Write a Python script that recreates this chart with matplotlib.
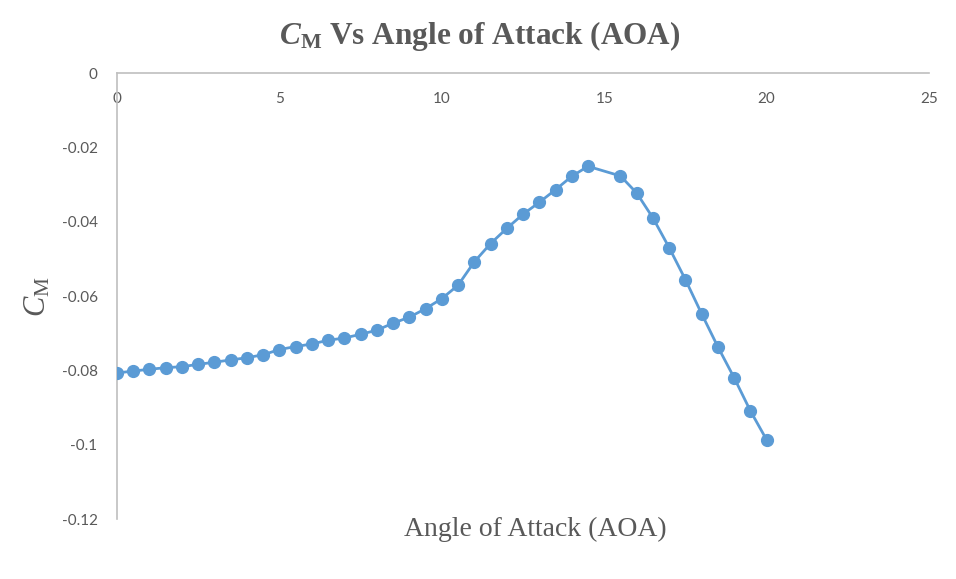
import matplotlib
matplotlib.use("Agg")
import matplotlib.pyplot as plt
from matplotlib.font_manager import FontProperties, findfont

# Angle of attack (deg) and pitching-moment coefficient
aoa = [0, 0.5, 1, 1.5, 2, 2.5, 3, 3.5, 4, 4.5,
       5, 5.5, 6, 6.5, 7, 7.5, 8, 8.5, 9, 9.5,
       10, 10.5, 11, 11.5, 12, 12.5, 13, 13.5, 14, 14.5,
       15.5, 16, 16.5, 17, 17.5, 18, 18.5, 19, 19.5, 20]
cm = [-0.0807, -0.0802, -0.0797, -0.0793, -0.0790, -0.0784, -0.0778, -0.0772, -0.0766, -0.0758,
      -0.0744, -0.0736, -0.0729, -0.0719, -0.0713, -0.0703, -0.0692, -0.0673, -0.0657, -0.0634,
      -0.0607, -0.0571, -0.0508, -0.0459, -0.0418, -0.0380, -0.0348, -0.0314, -0.0278, -0.0251,
      -0.0277, -0.0323, -0.0390, -0.0470, -0.0556, -0.0648, -0.0737, -0.0820, -0.0909, -0.0987]
x_ticks = [0, 5, 10, 15, 20, 25]
y_ticks = [0, -0.02, -0.04, -0.06, -0.08, -0.1, -0.12]
y_tick_labels = ["0", "-0.02", "-0.04", "-0.06", "-0.08", "-0.1", "-0.12"]

TEXT = "#595959"
AXIS = "#bfbfbf"
BLUE = "#5b9bd5"

tick_font = "DejaVu Sans"
for fam in ("Liberation Sans Narrow", "Lato", "Open Sans"):
    try:
        findfont(FontProperties(family=fam), fallback_to_default=False)
        tick_font = fam
        break
    except Exception:
        continue

plt.rcParams["mathtext.fontset"] = "custom"
plt.rcParams["mathtext.rm"] = "Liberation Serif"
plt.rcParams["mathtext.it"] = "Liberation Serif:italic"
plt.rcParams["mathtext.bf"] = "Liberation Serif:bold"
plt.rcParams["mathtext.bfit"] = "Liberation Serif:italic:bold"

fig = plt.figure(figsize=(9.56, 5.79), dpi=100)
fig.patch.set_facecolor("white")
ax = fig.add_axes([0.1224, 0.1036, 0.8494, 0.7703])

ax.plot(aoa, cm, color=BLUE, linewidth=2.0, marker="o", markersize=8.5,
        markerfacecolor=BLUE, markeredgecolor=BLUE, zorder=3)

ax.set_xlim(0, 25)
ax.set_ylim(-0.12, 0)

# Excel-style: category axis crosses at y = 0, i.e. along the top
for s in ("top", "right"):
    ax.spines[s].set_visible(False)
ax.spines["bottom"].set_position(("data", 0))
ax.spines["bottom"].set_color(AXIS)
ax.spines["left"].set_color(AXIS)
ax.spines["bottom"].set_linewidth(1.2)
ax.spines["left"].set_linewidth(1.2)

ax.set_xticks(x_ticks)
ax.set_xticklabels([str(v) for v in x_ticks])
ax.set_yticks(y_ticks)
ax.set_yticklabels(y_tick_labels)
ax.tick_params(axis="both", length=0, colors=TEXT, labelsize=11)
ax.tick_params(axis="x", pad=14)
ax.tick_params(axis="y", pad=14)
for lab in ax.get_xticklabels() + ax.get_yticklabels():
    lab.set_fontfamily(tick_font)

fig.text(0.502, 0.938, r"$\mathbfit{C}_{\mathbf{M}}$ Vs Angle of Attack (AOA)",
         ha="center", va="center", fontsize=22.5, fontweight="bold",
         family="Liberation Serif", color=TEXT)
fig.text(0.56, 0.085, "Angle of Attack (AOA)", ha="center", va="center",
         fontsize=20, family="Liberation Serif", color=TEXT)
fig.text(0.040, 0.487, r"$\mathit{C}_{\mathrm{M}}$", ha="center", va="center",
         rotation=90, fontsize=22, family="Liberation Serif", color=TEXT)

fig.savefig("out.png", facecolor="white")
